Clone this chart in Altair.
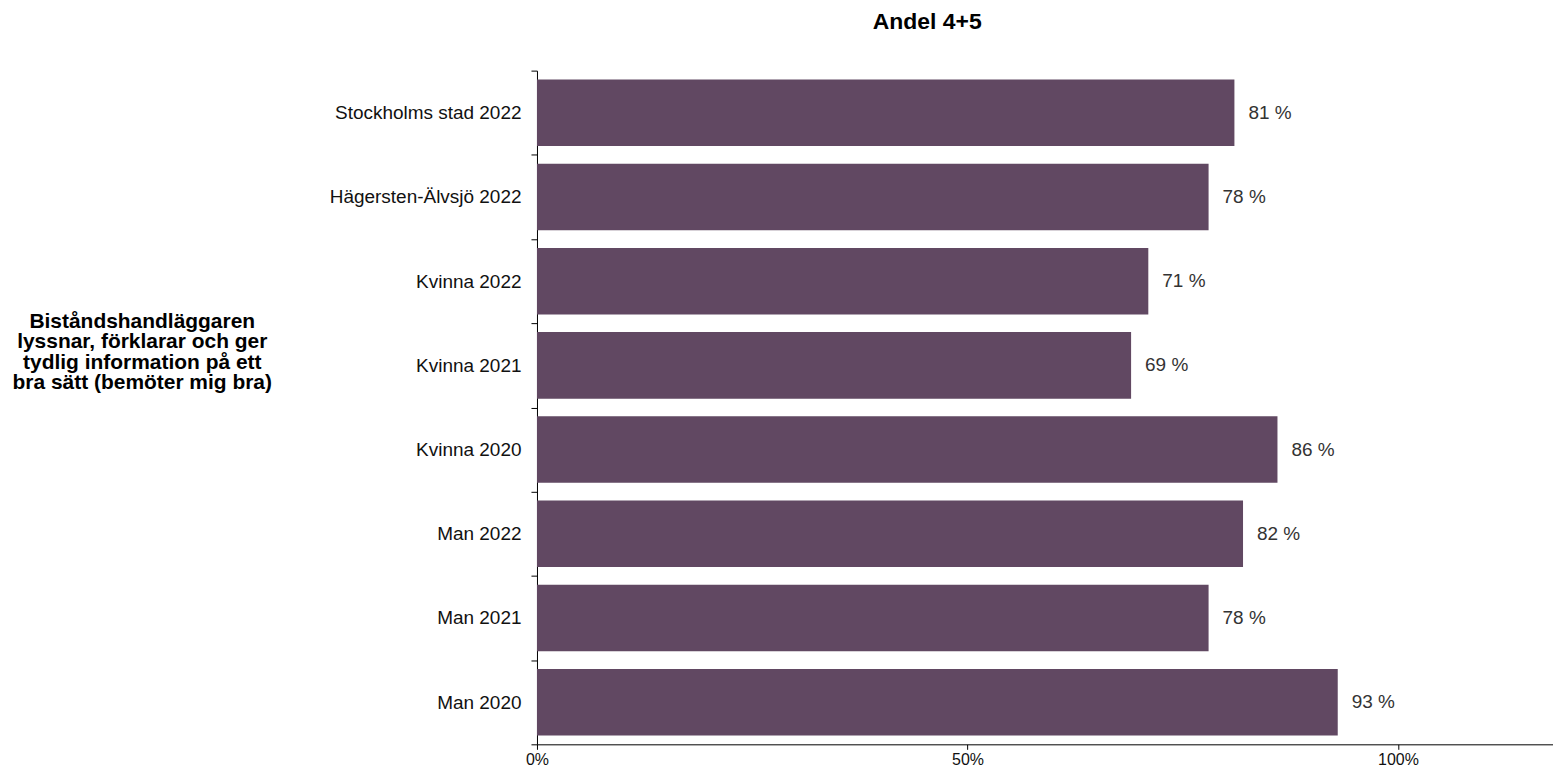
import altair as alt
import pandas as pd

categories = ["Stockholms stad 2022", "Hägersten-Älvsjö 2022", "Kvinna 2022", "Kvinna 2021",
              "Kvinna 2020", "Man 2022", "Man 2021", "Man 2020"]
values = [81, 78, 71, 69, 86, 82, 78, 93]
x_ticks = [0, 50, 100]
group_label = ["Biståndshandläggaren", "lyssnar, förklarar och ger",
               "tydlig information på ett", "bra sätt (bemöter mig bra)"]

df = pd.DataFrame({"cat": categories, "v": values})

FONT = "Liberation Sans"
COLOR = "#614862"

base = alt.Chart(df).encode(
    y=alt.Y("cat:N", sort=None,
            scale=alt.Scale(paddingInner=0, paddingOuter=0),
            axis=alt.Axis(title=group_label, titleAngle=0, titleAlign="center",
                          titleBaseline="middle", titleX=-396, titleY=251,
                          titleFont=FONT, titleFontSize=21, titleFontWeight="bold",
                          titleColor="#000", titleLineHeight=20.5,
                          labelFont=FONT, labelFontSize=19, labelColor="#111",
                          labelLimit=400,
                          labelPadding=10, tickBand="extent", tickSize=6,
                          tickColor="#000", domainColor="#000")),
)

bars = base.mark_bar(color=COLOR, height=alt.RelativeBandSize(0.79)).encode(
    x=alt.X("v:Q", scale=alt.Scale(domain=[0, 118], nice=False),
            axis=alt.Axis(values=x_ticks, labelExpr="datum.value + '%'", title=None,
                          labelFont=FONT, labelFontSize=16, labelColor="#111",
                          labelFlush=False, labelOverlap=False,
                          tickColor="#000", domainColor="#000", tickSize=5,
                          labelPadding=2, grid=False))
)

text = base.mark_text(align="left", baseline="middle", dx=14, font=FONT,
                      fontSize=19, color="#333").encode(
    x="v:Q",
    text=alt.Text("label:N"),
).transform_calculate(label="datum.v + ' %'")

chart = (bars + text).properties(
    width=1018, height=675,
    autosize=alt.AutoSizeParams(type="none"),
    padding={"left": 530, "top": 62, "right": 0, "bottom": 30},
    title=alt.TitleParams("Andel 4+5", font=FONT, fontSize=23, fontWeight="bold",
                          color="#000", anchor="middle", dx=-118, offset=28),
).configure_view(stroke=None)

chart.save("out.html", embed_options={"renderer": "svg", "actions": False})
